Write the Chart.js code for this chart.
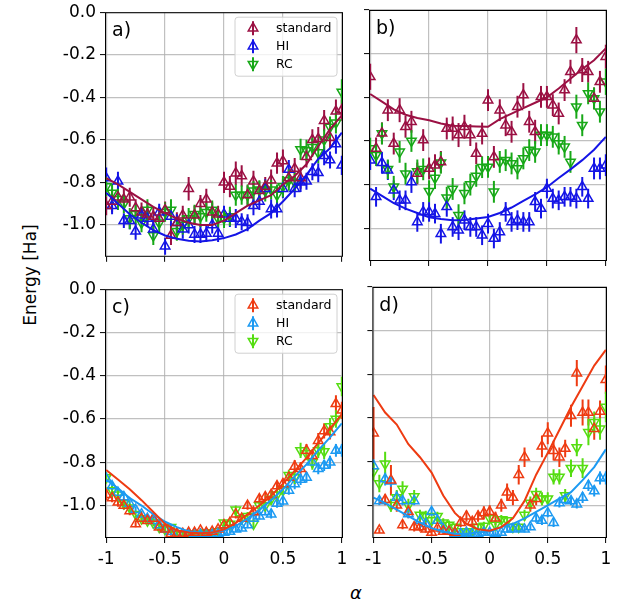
<!DOCTYPE html>
<html>
<head>
<meta charset="utf-8">
<script src="https://cdn.jsdelivr.net/npm/chart.js@4.4.0/dist/chart.umd.min.js"></script>
<style>
body{margin:0;width:628px;height:607px;position:relative;background:#fff;overflow:hidden;font-family:'DejaVu Sans',sans-serif}
canvas{position:absolute}
#ylab{position:absolute;left:30px;top:275px;transform:translate(-50%,-50%) rotate(-90deg);font-size:17px;white-space:nowrap;color:#000}
#xlab{position:absolute;left:356px;top:592px;transform:translate(-50%,-50%);font-size:18px;font-style:italic;color:#000}
</style>
</head>
<body>
<div id="ylab">Energy [Ha]</div>
<div id="xlab">α</div>
<script>
// x positions of the sampled points and of the fitted curves
const alpha = [-1,-0.95,-0.9,-0.85,-0.8,-0.75,-0.7,-0.65,-0.6,-0.55,-0.5,-0.45,-0.4,-0.35,-0.3,-0.25,-0.2,-0.15,-0.1,-0.05,0,0.05,0.1,0.15,0.2,0.25,0.3,0.35,0.4,0.45,0.5,0.55,0.6,0.65,0.7,0.75,0.8,0.85,0.9,0.95,1];
const alphaFit = [-1,-0.9,-0.8,-0.7,-0.6,-0.5,-0.4,-0.3,-0.2,-0.1,0,0.1,0.2,0.3,0.4,0.5,0.6,0.7,0.8,0.9,1];

const xTicks = [-1,-0.5,0,0.5,1];
const xTickLabels = ['-1','-0.5','0','0.5','1'];
const yTicks = [0,-0.2,-0.4,-0.6,-0.8,-1.0];
const yTickLabels = ['0.0','-0.2','-0.4','-0.6','-0.8','-1.0'];
const seriesNames = ['standard','HI','RC'];
const panelLabels = ['a)','b)','c)','d)'];

// panel a
const aStd = [-0.91,-0.89,-0.87,-0.88,-0.87,-0.92,-0.94,-0.95,-0.96,-0.97,-0.93,-1.05,-0.99,-0.955,-0.83,-0.955,-0.90,-0.88,-0.94,-0.95,-0.80,-0.82,-0.757,-0.77,-0.86,-0.795,-0.84,-0.82,-0.79,-0.71,-0.70,-0.78,-0.735,-0.78,-0.68,-0.60,-0.595,-0.51,-0.59,-0.466,-0.46];
const aHI = [-0.78,-0.91,-0.795,-0.98,-0.98,-1.03,-0.955,-0.97,-1.02,-0.94,-1.10,-0.96,-0.99,-1.02,-1.0,-1.045,-1.045,-1.04,-1.0,-1.04,-0.95,-0.97,-0.97,-0.985,-0.99,-0.91,-0.89,-0.83,-0.925,-0.925,-0.83,-0.74,-0.83,-0.80,-0.795,-0.75,-0.755,-0.675,-0.695,-0.62,-0.72];
const aRC = [-0.82,-0.85,-0.88,-0.90,-0.97,-0.95,-0.99,-0.93,-1.05,-0.99,-0.94,-0.93,-1.03,-1.0,-0.97,-0.95,-0.96,-0.94,-0.93,-0.97,-0.97,-0.96,-0.86,-0.86,-0.86,-0.84,-0.835,-0.84,-0.835,-0.86,-0.82,-0.79,-0.80,-0.645,-0.65,-0.635,-0.66,-0.60,-0.54,-0.52,-0.375];
const aStdErr = [0.045,0.05,0.045,0.05,0.045,0.04,0.045,0.05,0.045,0.045,0.04,0.045,0.05,0.045,0.055,0.045,0.04,0.05,0.045,0.04,0.05,0.05,0.055,0.05,0.045,0.05,0.045,0.045,0.05,0.05,0.055,0.045,0.05,0.05,0.05,0.05,0.055,0.05,0.05,0.055,0.05];
const aHIErr = [0.05,0.04,0.045,0.035,0.04,0.04,0.04,0.04,0.045,0.04,0.04,0.045,0.04,0.045,0.04,0.04,0.04,0.04,0.04,0.04,0.04,0.04,0.045,0.04,0.04,0.045,0.04,0.045,0.045,0.04,0.045,0.045,0.04,0.045,0.04,0.04,0.045,0.045,0.04,0.045,0.045];
const aRCErr = [0.045,0.045,0.05,0.045,0.05,0.045,0.045,0.05,0.045,0.05,0.045,0.05,0.045,0.045,0.05,0.045,0.05,0.045,0.045,0.045,0.045,0.045,0.05,0.045,0.05,0.045,0.045,0.05,0.045,0.05,0.05,0.05,0.045,0.05,0.05,0.045,0.05,0.05,0.05,0.05,0.06];
const aStdFit = [-0.78,-0.81,-0.845,-0.88,-0.915,-0.945,-0.97,-0.99,-1.0,-1.0,-0.98,-0.945,-0.91,-0.885,-0.86,-0.81,-0.77,-0.715,-0.63,-0.55,-0.485];
const aHIFit = [-0.849,-0.9,-0.95,-0.99,-1.025,-1.05,-1.065,-1.075,-1.078,-1.072,-1.062,-1.045,-1.02,-0.98,-0.945,-0.89,-0.83,-0.765,-0.69,-0.64,-0.566];

// panel b
const bStd = [-0.306,-0.634,-0.565,-0.459,-0.612,-0.459,-0.535,-0.512,-0.749,-0.596,-0.726,-0.711,-0.696,-0.543,-0.543,-0.573,-0.535,-0.573,-0.657,-0.566,-0.413,-0.673,-0.459,-0.528,-0.558,-0.443,-0.390,-0.512,-0.558,-0.398,-0.398,-0.436,-0.474,-0.367,-0.283,-0.138,-0.275,-0.283,-0.405,-0.329,-0.214];
const bHI = [-0.688,-0.856,-0.70,-0.734,-0.826,-0.872,-0.872,-0.788,-0.971,-0.925,-0.925,-0.933,-1.025,-0.902,-0.994,-1.009,-0.963,-0.994,-0.994,-1.032,-0.979,-1.047,-1.017,-0.925,-0.971,-0.963,-0.971,-0.971,-0.879,-0.91,-0.818,-0.864,-0.872,-0.856,-0.856,-0.864,-0.81,-0.864,-0.726,-0.726,-0.711];
const bRC = [-0.635,-0.665,-0.566,-0.73,-0.81,-0.65,-0.75,-0.60,-0.74,-0.73,-0.83,-0.77,-0.70,-0.86,-0.82,-0.94,-0.84,-0.80,-0.76,-0.72,-0.719,-0.833,-0.696,-0.688,-0.703,-0.726,-0.68,-0.642,-0.65,-0.573,-0.573,-0.581,-0.612,-0.627,-0.696,-0.443,-0.528,-0.382,-0.405,-0.466,-0.329];
const bStdErr = [0.06,0.05,0.05,0.05,0.05,0.055,0.05,0.05,0.05,0.05,0.05,0.05,0.05,0.05,0.055,0.055,0.055,0.05,0.05,0.05,0.05,0.05,0.05,0.05,0.05,0.05,0.055,0.05,0.055,0.05,0.05,0.05,0.05,0.05,0.055,0.06,0.055,0.05,0.05,0.05,0.055];
const bHIErr = [0.045,0.045,0.05,0.045,0.045,0.045,0.045,0.05,0.045,0.045,0.045,0.045,0.045,0.045,0.045,0.045,0.045,0.045,0.045,0.045,0.045,0.045,0.045,0.045,0.045,0.045,0.045,0.045,0.045,0.045,0.045,0.045,0.045,0.045,0.045,0.045,0.045,0.045,0.05,0.05,0.05];
const bRCErr = [0.05,0.05,0.05,0.045,0.05,0.05,0.05,0.05,0.055,0.05,0.05,0.05,0.05,0.05,0.05,0.05,0.05,0.05,0.05,0.05,0.05,0.05,0.05,0.05,0.05,0.05,0.05,0.05,0.05,0.05,0.05,0.05,0.05,0.05,0.05,0.055,0.05,0.05,0.05,0.05,0.06];
const bStdFit = [-0.385,-0.42,-0.455,-0.48,-0.495,-0.505,-0.52,-0.53,-0.532,-0.534,-0.535,-0.50,-0.475,-0.45,-0.425,-0.40,-0.36,-0.315,-0.27,-0.23,-0.176];
const bHIFit = [-0.818,-0.852,-0.885,-0.91,-0.93,-0.95,-0.958,-0.963,-0.962,-0.955,-0.948,-0.93,-0.905,-0.875,-0.845,-0.812,-0.77,-0.73,-0.688,-0.64,-0.581];

// panel c
const cStd = [-0.95,-0.965,-0.985,-1.0,-1.025,-1.085,-1.06,-1.07,-1.06,-1.10,-1.11,-1.13,-1.13,-1.13,-1.125,-1.125,-1.115,-1.125,-1.12,-1.11,-1.09,-1.08,-1.04,-1.06,-1.0,-1.03,-0.97,-0.96,-0.95,-0.91,-0.90,-0.87,-0.82,-0.83,-0.745,-0.77,-0.70,-0.655,-0.66,-0.53,-0.56];
const cHI = [-0.875,-0.91,-0.94,-0.96,-0.99,-1.02,-1.04,-1.06,-1.07,-1.09,-1.11,-1.12,-1.13,-1.135,-1.135,-1.13,-1.135,-1.13,-1.135,-1.13,-1.125,-1.12,-1.11,-1.105,-1.09,-1.06,-1.05,-1.03,-1.04,-0.99,-0.98,-0.93,-0.90,-0.88,-0.87,-0.80,-0.83,-0.815,-0.80,-0.745,-0.745];
const cRC = [-0.87,-0.93,-0.95,-0.99,-1.01,-1.04,-1.06,-1.07,-1.08,-1.10,-1.11,-1.10,-1.13,-1.13,-1.135,-1.13,-1.13,-1.125,-1.13,-1.12,-1.08,-1.085,-1.02,-1.06,-1.05,-1.085,-1.0,-1.0,-0.97,-0.95,-0.93,-0.86,-0.87,-0.745,-0.76,-0.80,-0.745,-0.75,-0.635,-0.60,-0.45];
const cStdErr = [0.025,0.02,0.02,0.02,0.02,0.015,0.015,0.015,0.015,0.015,0.012,0.01,0.01,0.01,0.01,0.01,0.012,0.01,0.012,0.012,0.015,0.015,0.02,0.02,0.02,0.02,0.02,0.02,0.02,0.025,0.025,0.025,0.03,0.03,0.03,0.03,0.035,0.035,0.035,0.04,0.04];
const cHIErr = [0.02,0.02,0.02,0.015,0.015,0.015,0.015,0.015,0.012,0.012,0.01,0.01,0.01,0.01,0.01,0.01,0.01,0.01,0.01,0.01,0.01,0.01,0.012,0.012,0.015,0.015,0.015,0.015,0.02,0.02,0.02,0.02,0.025,0.025,0.025,0.025,0.025,0.025,0.03,0.03,0.03];
const cRCErr = [0.025,0.02,0.02,0.02,0.02,0.015,0.015,0.015,0.015,0.012,0.012,0.01,0.01,0.01,0.01,0.01,0.01,0.01,0.01,0.012,0.015,0.015,0.02,0.02,0.02,0.02,0.02,0.02,0.025,0.025,0.025,0.025,0.03,0.035,0.03,0.035,0.035,0.035,0.04,0.04,0.045];
const cStdFit = [-0.836,-0.88,-0.925,-0.975,-1.03,-1.085,-1.115,-1.125,-1.128,-1.125,-1.11,-1.08,-1.04,-1.0,-0.955,-0.9,-0.84,-0.78,-0.71,-0.645,-0.577];
const cHIFit = [-0.88,-0.92,-0.965,-1.0,-1.04,-1.075,-1.1,-1.12,-1.125,-1.125,-1.115,-1.095,-1.06,-1.02,-0.975,-0.925,-0.865,-0.81,-0.745,-0.685,-0.62];

// panel d
const dStd = [-0.67,-1.115,-0.975,-0.885,-1.0,-1.09,-1.03,-1.10,-1.10,-1.11,-1.125,-1.105,-1.12,-1.12,-1.125,-1.08,-1.05,-1.075,-1.05,-1.035,-1.03,-1.06,-1.0,-0.94,-0.965,-0.86,-0.78,-1.0,-0.97,-0.73,-0.67,-0.75,-0.78,-0.74,-0.59,-0.395,-0.575,-0.575,-0.65,-0.57,-0.425];
const dHI = [-0.82,-0.98,-0.88,-0.89,-0.965,-0.98,-1.04,-0.98,-1.07,-1.085,-1.03,-1.07,-1.11,-1.12,-1.13,-1.13,-1.125,-1.13,-1.13,-1.125,-1.125,-1.13,-1.125,-1.11,-1.11,-1.105,-1.11,-1.10,-1.06,-1.07,-1.035,-1.08,-0.99,-0.975,-0.98,-0.995,-0.965,-0.91,-0.935,-0.875,-0.875];
const dRC = [-0.845,-0.90,-0.81,-1.0,-0.965,-0.925,-1.0,-0.96,-1.045,-1.05,-1.07,-1.05,-1.08,-1.09,-1.10,-1.12,-1.12,-1.12,-1.10,-1.095,-1.06,-1.09,-1.065,-1.07,-1.1,-1.1,-1.045,-0.99,-0.95,-0.97,-0.97,-0.87,-0.87,-0.955,-0.83,-0.735,-0.83,-0.665,-0.62,-0.65,-0.55];
const dStdErr = [0.12,0.012,0.025,0.07,0.03,0.02,0.03,0.02,0.02,0.015,0.015,0.015,0.015,0.015,0.015,0.02,0.025,0.02,0.025,0.03,0.03,0.03,0.03,0.04,0.035,0.045,0.045,0.03,0.03,0.05,0.05,0.045,0.045,0.04,0.05,0.06,0.06,0.06,0.05,0.05,0.065];
const dHIErr = [0.03,0.02,0.03,0.025,0.03,0.02,0.02,0.02,0.015,0.015,0.02,0.015,0.015,0.01,0.01,0.01,0.01,0.01,0.01,0.01,0.01,0.01,0.01,0.015,0.015,0.015,0.015,0.015,0.02,0.02,0.02,0.02,0.02,0.02,0.02,0.02,0.025,0.025,0.025,0.03,0.03];
const dRCErr = [0.04,0.04,0.055,0.03,0.035,0.035,0.03,0.03,0.025,0.025,0.02,0.02,0.02,0.02,0.015,0.015,0.015,0.015,0.015,0.02,0.02,0.02,0.02,0.02,0.02,0.02,0.025,0.03,0.03,0.03,0.03,0.035,0.035,0.03,0.04,0.04,0.045,0.06,0.05,0.05,0.07];
const dStdFit = [-0.495,-0.575,-0.63,-0.72,-0.78,-0.85,-0.955,-1.035,-1.085,-1.11,-1.117,-1.10,-1.06,-0.98,-0.86,-0.76,-0.655,-0.55,-0.455,-0.36,-0.288];
const dHIFit = [-0.965,-0.99,-1.02,-1.05,-1.08,-1.105,-1.12,-1.13,-1.13,-1.125,-1.12,-1.10,-1.085,-1.06,-1.03,-1.0,-0.97,-0.94,-0.885,-0.825,-0.744];

const darkColors = ['#9b1043','#1414e6','#17a817'];
const lightColors = ['#ee3b12','#1c9af2','#55dd11'];

Chart.defaults.font.family = "'DejaVu Sans', sans-serif";
Chart.defaults.color = '#000';

const PLOT_W = 238, PLOT_H = 251, PAD_T = 12, PAD_R = 12;

function pts(ys){ return alpha.map((x,i) => ({x: x, y: ys[i]})); }
function fitPts(ys){ return alphaFit.map((x,i) => ({x: x, y: ys[i]})); }

function tri(ctx, x, y, r, down){
  const s = down ? -1 : 1;
  ctx.beginPath();
  ctx.moveTo(x, y - s*r);
  ctx.lineTo(x + r*0.866, y + s*r*0.5);
  ctx.lineTo(x - r*0.866, y + s*r*0.5);
  ctx.closePath();
  ctx.stroke();
}

// vertical error bars under the markers
const errorBars = {
  id: 'errorBars',
  beforeDatasetsDraw(chart){
    const ctx = chart.ctx, ca = chart.chartArea, ys = chart.scales.y;
    ctx.save();
    ctx.beginPath();
    ctx.rect(ca.left, ca.top, ca.right - ca.left, ca.bottom - ca.top);
    ctx.clip();
    chart.data.datasets.forEach((ds, di) => {
      if (!ds.errors) return;
      const meta = chart.getDatasetMeta(di);
      ctx.strokeStyle = ds.borderColor;
      ctx.lineWidth = 2;
      meta.data.forEach((p, i) => {
        const v = ds.data[i].y, e = ds.errors[i];
        ctx.beginPath();
        ctx.moveTo(p.x, ys.getPixelForValue(v + e));
        ctx.lineTo(p.x, ys.getPixelForValue(v - e));
        ctx.stroke();
      });
    });
    ctx.restore();
  }
};

// frame, panel letter and the legend box
const panelDecor = {
  id: 'panelDecor',
  afterDraw(chart){
    const o = chart.options.plugins.panelDecor;
    const ctx = chart.ctx, ca = chart.chartArea;
    ctx.save();
    ctx.strokeStyle = '#000';
    ctx.lineWidth = 1;
    ctx.strokeRect(ca.left + 0.5, ca.top + 0.5, ca.right - ca.left - 1, ca.bottom - ca.top - 1);

    ctx.fillStyle = '#000';
    ctx.font = "19px 'DejaVu Sans'";
    ctx.textBaseline = 'alphabetic';
    ctx.fillText(o.label, ca.left + 7, ca.top + 24);

    if (o.legend){
      const x0 = ca.right - 108, y0 = ca.top + 5, w = 102, h = 59, r = 3;
      ctx.beginPath();
      ctx.moveTo(x0 + r, y0);
      ctx.arcTo(x0 + w, y0, x0 + w, y0 + h, r);
      ctx.arcTo(x0 + w, y0 + h, x0, y0 + h, r);
      ctx.arcTo(x0, y0 + h, x0, y0, r);
      ctx.arcTo(x0, y0, x0 + w, y0, r);
      ctx.closePath();
      ctx.fillStyle = 'rgba(255,255,255,0.8)';
      ctx.fill();
      ctx.strokeStyle = '#d0d0d0';
      ctx.stroke();
      seriesNames.forEach((name, k) => {
        const yy = ca.top + 16 + k*18, xm = ca.right - 90;
        ctx.strokeStyle = o.colors[k];
        ctx.lineWidth = 2;
        ctx.beginPath();
        ctx.moveTo(xm, yy - 7);
        ctx.lineTo(xm, yy + 7);
        ctx.stroke();
        ctx.lineWidth = 1.5;
        tri(ctx, xm, yy, 5.5, k === 2);
        ctx.fillStyle = '#000';
        ctx.font = "12.5px 'DejaVu Sans'";
        ctx.textBaseline = 'middle';
        ctx.fillText(name, ca.right - 67, yy + 1);
      });
    }
    ctx.restore();
  }
};

function makePanel(cfg){
  const yW = cfg.showY ? 60 : 10;
  const xH = cfg.showX ? 40 : 10;
  const cv = document.createElement('canvas');
  cv.width = yW + PLOT_W + PAD_R;
  cv.height = PAD_T + PLOT_H + xH;
  cv.style.width = cv.width + 'px';
  cv.style.height = cv.height + 'px';
  cv.style.left = (cfg.left - yW) + 'px';
  cv.style.top = (cfg.top - PAD_T) + 'px';
  document.body.appendChild(cv);

  const datasets = [];
  cfg.fits.forEach((f, k) => datasets.push({
    data: fitPts(f), showLine: true, borderColor: cfg.colors[k], borderWidth: 2,
    pointRadius: 0, tension: 0, fill: false, clip: 0
  }));
  cfg.series.forEach((s, k) => datasets.push({
    data: pts(s), errors: cfg.errs[k], showLine: false,
    borderColor: cfg.colors[k], pointBorderColor: cfg.colors[k],
    pointBackgroundColor: 'rgba(255,255,255,0)', pointStyle: 'triangle',
    pointRotation: k === 2 ? 180 : 0, pointRadius: 5.5, pointBorderWidth: 1.5, clip: 0
  }));

  const gridOpts = { color: 'rgba(176,176,176,0.8)', lineWidth: 1.2, tickLength: 5, tickColor: '#000', tickWidth: 1 };

  new Chart(cv, {
    type: 'scatter',
    data: { datasets: datasets },
    options: {
      responsive: false,
      maintainAspectRatio: false,
      animation: false,
      events: [],
      layout: { padding: { top: PAD_T, right: PAD_R, left: 0, bottom: 0 } },
      plugins: {
        legend: { display: false },
        tooltip: { enabled: false },
        panelDecor: { label: cfg.label, legend: cfg.legend, colors: cfg.colors }
      },
      scales: {
        x: {
          type: 'linear', min: -1.01, max: 1.01,
          afterBuildTicks: s => { s.ticks = xTicks.map(v => ({value: v})); },
          afterFit: s => { s.height = xH; },
          grid: gridOpts,
          border: { display: false },
          ticks: { display: cfg.showX, autoSkip: false, maxRotation: 0, padding: 6,
                   font: { size: 17 }, color: '#000', callback: (v, i) => xTickLabels[i] }
        },
        y: {
          type: 'linear', min: -1.15, max: 0,
          afterBuildTicks: s => { s.ticks = yTicks.map(v => ({value: v})); },
          afterFit: s => { s.width = yW; },
          grid: gridOpts,
          border: { display: false },
          ticks: { display: cfg.showY, autoSkip: false, padding: 4,
                   font: { size: 17 }, color: '#000', callback: (v, i) => yTickLabels[i] }
        }
      }
    },
    plugins: [errorBars, panelDecor]
  });
}

makePanel({ left: 105, top: 10, showX: false, showY: true, label: panelLabels[0], legend: true,
  colors: darkColors, series: [aStd, aHI, aRC], errs: [aStdErr, aHIErr, aRCErr], fits: [aStdFit, aHIFit] });
makePanel({ left: 369, top: 10, showX: false, showY: false, label: panelLabels[1], legend: false,
  colors: darkColors, series: [bStd, bHI, bRC], errs: [bStdErr, bHIErr, bRCErr], fits: [bStdFit, bHIFit] });
makePanel({ left: 105, top: 287, showX: true, showY: true, label: panelLabels[2], legend: true,
  colors: lightColors, series: [cStd, cHI, cRC], errs: [cStdErr, cHIErr, cRCErr], fits: [cStdFit, cHIFit] });
makePanel({ left: 369, top: 287, showX: true, showY: false, label: panelLabels[3], legend: false,
  colors: lightColors, series: [dStd, dHI, dRC], errs: [dStdErr, dHIErr, dRCErr], fits: [dStdFit, dHIFit] });
</script>
</body>
</html>
